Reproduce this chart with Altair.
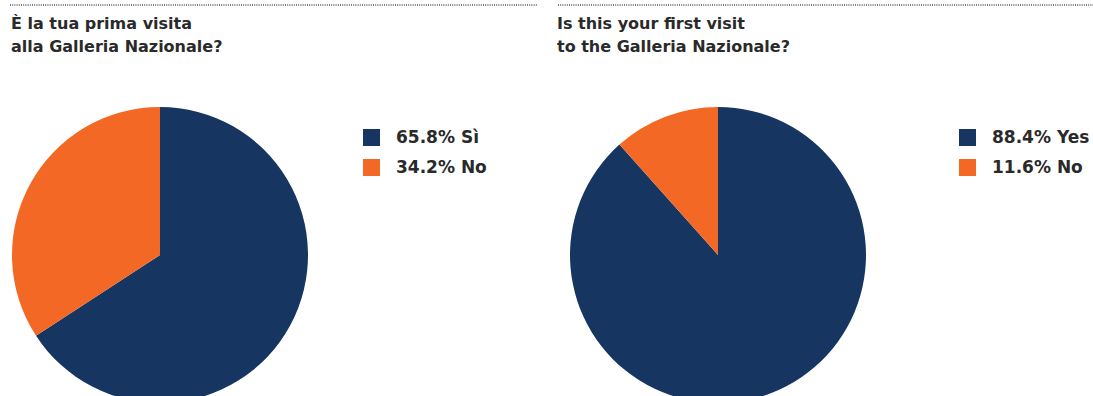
import altair as alt
import pandas as pd

# Data
left_names = ["Sì", "No"]
left_pct = [65.8, 34.2]
right_names = ["Yes", "No"]
right_pct = [88.4, 11.6]
left_title = ["È la tua prima visita", "alla Galleria Nazionale?"]
right_title = ["Is this your first visit", "to the Galleria Nazionale?"]

NAVY = "#163561"
ORANGE = "#F26824"
FONT = "DejaVu Sans"


def pie_df(names, pct):
    labels = []
    for n, p in zip(names, pct):
        s = f"{p:.1f}%"
        gap = "\u00a0\u00a0\u00a0" if len(s) < 5 else " "
        labels.append(f"{s}{gap}{n}")
    return pd.DataFrame({"label": labels, "pct": pct, "idx": list(range(len(pct)))})


def pie(df, cx, cy, lx, ly):
    return alt.Chart(df).mark_arc(outerRadius=148, stroke=None).encode(
        theta=alt.Theta("pct:Q", stack=True, scale=alt.Scale(domain=[0, 100])),
        order=alt.Order("idx:Q", sort="ascending"),
        color=alt.Color(
            "label:N",
            sort=list(df["label"]),
            scale=alt.Scale(domain=list(df["label"]), range=[NAVY, ORANGE]),
            legend=alt.Legend(
                title=None,
                orient="none",
                legendX=lx,
                legendY=ly,
                symbolType="square",
                symbolSize=289,
                symbolStrokeWidth=0,
                symbolOpacity=1,
                labelFontSize=17,
                labelFont=FONT,
                labelFontWeight="bold",
                labelColor="#2a2a2a",
                labelOffset=16,
                rowPadding=12,
                padding=0,
            ),
        ),
        x=alt.value(cx),
        y=alt.value(cy),
    )


ldf = pie_df(left_names, left_pct)
rdf = pie_df(right_names, right_pct)

title_df_l = pd.DataFrame({"t": [left_title]})
title_df_r = pd.DataFrame({"t": [right_title]})


def title(df, x):
    return alt.Chart(df).mark_text(
        align="left", baseline="alphabetic", font=FONT, fontSize=16, fontWeight="bold",
        color="#2a2a2a", lineHeight=23,
    ).encode(text="t", x=alt.value(x), y=alt.value(29))


def rule(x1, x2):
    return alt.Chart(pd.DataFrame({"a": [0]})).mark_rule(
        color="#555555", strokeDash=[1, 1.2], strokeWidth=1.6
    ).encode(x=alt.value(x1), x2=alt.value(x2), y=alt.value(5))


chart = alt.layer(
    pie(ldf, 160, 255, 363, 129),
    pie(rdf, 718, 255, 959, 129),
    title(title_df_l, 11),
    title(title_df_r, 557),
    rule(10, 537),
    rule(558, 1093),
).resolve_scale(color="independent", theta="independent").properties(
    width=1093, height=396, padding=0, autosize=alt.AutoSizeParams(type="none"),
).configure_view(stroke=None)

chart.save("out.html", embed_options={"renderer": "svg", "actions": False})
